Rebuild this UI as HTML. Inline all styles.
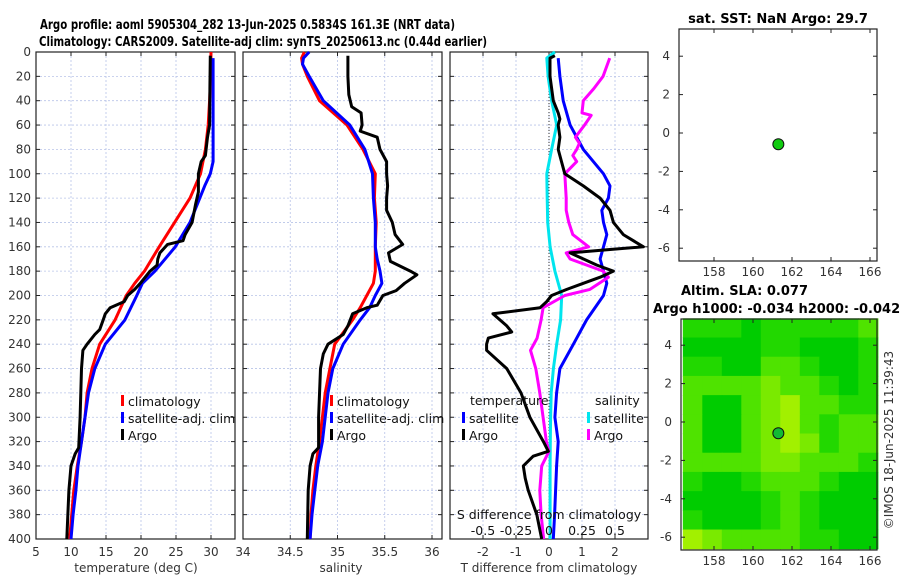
<!DOCTYPE html>
<html><head><meta charset="utf-8"><style>
html,body{margin:0;padding:0;background:#fff;width:900px;height:580px;overflow:hidden}
svg{display:block;font-family:"DejaVu Sans","Liberation Sans",sans-serif}
.tk{font-size:12px;fill:#333}
.ttl{font-size:13px;font-weight:bold;fill:#000}
.lg{font-size:12.5px;fill:#111}
</style></head><body>
<svg id="fig" width="900" height="580" viewBox="0 0 900 580" xmlns="http://www.w3.org/2000/svg">
<text class="ttl" x="40" y="29" textLength="415" lengthAdjust="spacingAndGlyphs">Argo profile: aoml 5905304_282 13-Jun-2025 0.5834S 161.3E (NRT data)</text>
<text class="ttl" x="39" y="46" textLength="448" lengthAdjust="spacingAndGlyphs">Climatology: CARS2009. Satellite-adj clim: synTS_20250613.nc (0.44d earlier)</text>
<g id="g1"></g>
<g id="g2"></g>
<g id="g3"></g>
<g id="m1"></g>
<g id="m2"></g>
<text class="ttl" x="778" y="23" text-anchor="middle">sat. SST: NaN Argo: 29.7</text>
<text class="ttl" x="681" y="295">Altim. SLA: 0.077</text>
<text class="ttl" x="653" y="313">Argo h1000: -0.034 h2000: -0.042</text>
<text class="tk" transform="translate(893,440) rotate(-90)" text-anchor="middle">©IMOS 18-Jun-2025 11:39:43</text>
</svg>
<script>
// ---- data ----
const tClimDepth=[0,20,40,60,80,100,120,140,160,180,190,200,220,240,260,280,300,320,340,360,380,400];
const tClim=[30,29.95,29.8,29.6,29.2,28.5,27,24.8,22.6,20.5,19.1,17.9,16.3,14.1,13,12.3,12,11.5,10.9,10.4,10.1,9.8];
const tSatDepth=[5,20,40,60,80,90,100,110,120,140,160,180,190,200,220,240,260,280,300,320,340,360,380,400];
const tSat=[30.3,30.3,30.3,30.3,30.3,30.3,29.9,29.1,28.4,27,24.9,22,20.2,19.4,17.7,14.9,13.4,12.5,12,11.5,11,10.7,10.3,10];
const tArgoDepth=[3,30,60,70,85,90,100,115,125,140,150,155,158,165,170,175,180,185,190,195,200,205,210,215,220,228,232,240,245,260,300,325,330,340,360,400];
const tArgo=[29.9,29.85,29.8,29.5,29.2,28.6,28.2,28.2,27.8,27.3,26.3,26,23.8,22.7,22.4,22.3,21.3,20.6,19.9,19.1,18.1,17.6,15.6,14.9,14.6,14.1,13.4,12.3,11.7,11.5,11.3,11.1,10.6,10,9.7,9.4];
const sClimDepth=[0,5,10,20,40,60,80,100,120,140,160,180,190,200,210,220,240,260,280,300,320,340,360,380,400];
const sClim=[34.65,34.62,34.63,34.68,34.81,35.1,35.27,35.4,35.39,35.41,35.4,35.4,35.38,35.31,35.24,35.16,34.97,34.92,34.87,34.84,34.81,34.77,34.74,34.72,34.71];
const sSatDepth=[0,5,10,20,40,60,80,100,120,140,160,170,180,190,200,210,220,240,260,280,300,320,340,360,380,400];
const sSat=[34.7,34.64,34.63,34.7,34.85,35.13,35.29,35.37,35.38,35.4,35.4,35.42,35.45,35.47,35.4,35.34,35.24,35.06,34.95,34.9,34.87,34.84,34.79,34.76,34.73,34.71];
const sArgoDepth=[3,20,35,45,50,60,65,70,80,90,100,110,120,130,140,150,158,165,172,180,183,190,196,200,208,210,215,225,232,240,248,260,300,325,330,340,360,400];
const sArgo=[35.11,35.11,35.12,35.15,35.25,35.26,35.24,35.42,35.45,35.52,35.52,35.53,35.52,35.52,35.58,35.61,35.69,35.54,35.56,35.77,35.84,35.71,35.62,35.48,35.42,35.31,35.16,35.11,35.06,34.9,34.85,34.82,34.8,34.8,34.74,34.71,34.69,34.68];
const dTSatDepth=[5,20,40,60,80,100,110,120,130,140,150,160,170,180,190,200,220,240,260,280,300,320,340,360,380,400];
const dTSat=[0.28,0.33,0.43,0.64,1.04,1.65,1.85,1.8,1.6,1.65,1.75,1.65,1.55,1.65,1.75,1.65,1.14,0.74,0.33,0.23,0.18,0.28,0.23,0.2,0.17,0.13];
const dTArgoDepth=[3,5,20,40,50,55,60,70,80,90,100,110,120,130,140,150,160,162,165,175,180,185,190,195,200,205,210,215,225,230,235,240,245,260,280,300,320,328,332,340,350,360,380,400];
const dTArgo=[0.18,0.03,0.03,0.13,0.28,0.33,0.28,0.33,0.28,0.38,0.48,1.04,1.55,1.85,1.95,2.25,2.86,1.94,0.64,1.45,1.95,1.55,1.04,0.54,0.08,-0.07,-0.27,-1.7,-1.28,-1.13,-1.84,-1.89,-1.89,-1.28,-0.85,-0.58,-0.17,-0.02,-0.48,-0.78,-0.72,-0.63,-0.37,-0.22];
const dSSatDepth=[0,5,20,40,60,80,100,120,140,160,180,200,220,240,260,280,300,320,340,360,380,400];
const dSSat=[0.045,-0.017,-0.007,0.02,0.058,0.02,-0.017,-0.014,-0.01,0.008,0.045,0.096,0.088,0.058,0.033,0.017,0.012,0.01,0.008,0.008,0.008,0.008];
const dSArgoDepth=[5,20,30,40,50,52,60,70,75,80,85,90,100,120,130,140,150,160,165,170,180,185,195,200,210,220,235,245,260,280,300,320,328,340,360,380,400];
const dSArgo=[0.46,0.41,0.34,0.26,0.25,0.32,0.27,0.2,0.23,0.21,0.18,0.21,0.12,0.13,0.13,0.15,0.18,0.3,0.13,0.16,0.41,0.45,0.31,0.12,-0.045,-0.06,-0.09,-0.14,-0.1,-0.07,-0.045,-0.02,0,-0.055,-0.07,-0.06,-0.04];
const depthTicks=[0,20,40,60,80,100,120,140,160,180,200,220,240,260,280,300,320,340,360,380,400];
const tTicks=[5,10,15,20,25,30];
const sTicks=[34,34.5,35,35.5,36];
const sTickLabels=["34","34.5","35","35.5","36"];
const dTTicks=[-2,-1,0,1,2];
const dSTicks=[-0.5,-0.25,0,0.25,0.5];
const lonTicks=[158,160,162,164,166];
const latTicks=[4,2,0,-2,-4,-6];
const argoLon=161.3, argoLat=-0.5834;
const slaGrid=[
[1,1,1,0,1,1,1,1,1,2],
[0,0,0,0,1,1,0,0,0,1],
[1,1,0,0,2,2,1,0,0,1],
[2,2,2,2,3,2,2,1,0,1],
[2,0,0,2,3,4,2,2,1,1],
[2,0,0,2,3,4,2,1,2,2],
[2,0,0,2,3,4,3,1,2,2],
[2,2,2,2,3,3,2,2,2,1],
[1,0,0,1,2,2,2,1,0,0],
[0,0,0,0,1,2,1,0,0,0],
[1,0,0,0,1,2,1,0,0,0],
[4,3,2,2,2,2,1,1,0,0]];
// ---- helpers ----
const NS="http://www.w3.org/2000/svg";
function mk(tag,attrs,parent){const e=document.createElementNS(NS,tag);for(const k in attrs)e.setAttribute(k,attrs[k]);parent.appendChild(e);return e;}
const Y0=52,Y1=539;
const yD=d=>Y0+(Y1-Y0)*d/400;
function lin(d0,d1,r0,r1){return v=>r0+(v-d0)*(r1-r0)/(d1-d0);}
function panel(g,x0,x1,xs,xticks,labels,name){
  depthTicks.forEach(d=>{
    const l=mk('line',{x1:x0,x2:x1,y1:yD(d),y2:yD(d),stroke:'#b8c4e8','stroke-width':0.8,'stroke-dasharray':'2,2'},g);
    
    
  });
  xticks.forEach((v,i)=>{
    const x=xs(v);
    if(x>x0+1&&x<x1-1){const l=mk('line',{x1:x,x2:x,y1:Y0,y2:Y1,stroke:'#b8c4e8','stroke-width':0.8,'stroke-dasharray':'2,2'},g);
    
    }
    mk('line',{x1:x,x2:x,y1:Y1,y2:Y1-4,stroke:'#222'},g);
    mk('line',{x1:x,x2:x,y1:Y0,y2:Y0+4,stroke:'#222'},g);
    const t=mk('text',{x:x,y:556,'text-anchor':'middle',class:'tk'},g);t.textContent=labels[i];
    
    
  });
  depthTicks.forEach(d=>{mk('line',{x1:x0,x2:x0+4,y1:yD(d),y2:yD(d),stroke:'#222'},g);mk('line',{x1:x1,x2:x1-4,y1:yD(d),y2:yD(d),stroke:'#222'},g);});
  const r=mk('rect',{x:x0,y:Y0,width:x1-x0,height:Y1-Y0,fill:'none',stroke:'#222','stroke-width':1.2},g);
  
  
}
function series(g,ds,vs,xs,color,name){
  const p=ds.map((d,i)=>(i?'L':'M')+xs(vs[i]).toFixed(1)+','+yD(d).toFixed(1)).join('');
  const e=mk('path',{d:p,fill:'none',stroke:color,'stroke-width':3,'stroke-linejoin':'round'},g);
  
  
}
function legendItem(g,x,y,color,label,name){
  mk('rect',{x:x,y:y-11,width:3,height:11,fill:color},g);
  const t=mk('text',{x:x+7,y:y,class:'lg'},g);t.textContent=label;
  
  
}
// panel 1
const g1=document.getElementById('g1');
const xT=lin(5,30,36,211);
panel(g1,36,235,xT,tTicks,tTicks.map(String),'temp');
depthTicks.forEach(d=>{const t=mk('text',{x:31,y:yD(d)+4,'text-anchor':'end',class:'tk'},g1);t.textContent=d;
 
 });
series(g1,tClimDepth,tClim,xT,'#ff0000','temp-climatology-line');
series(g1,tSatDepth,tSat,xT,'#0000ff','temp-satellite-line');
series(g1,tArgoDepth,tArgo,xT,'#000','temp-argo-line');
legendItem(g1,121,406,'#f00','climatology','temp-legend-climatology');
legendItem(g1,121,423,'#00f','satellite-adj. clim','temp-legend-satellite');
legendItem(g1,121,440,'#000','Argo','temp-legend-argo');
let t=mk('text',{x:136,y:572,'text-anchor':'middle',class:'tk','font-size':'13'},g1);t.textContent='temperature (deg C)';

// panel 2
const g2=document.getElementById('g2');
const xS=lin(34,36,243,432);
panel(g2,243,442,xS,sTicks,sTickLabels,'sal');
series(g2,sClimDepth,sClim,xS,'#ff0000','sal-climatology-line');
series(g2,sSatDepth,sSat,xS,'#0000ff','sal-satellite-line');
series(g2,sArgoDepth,sArgo,xS,'#000','sal-argo-line');
legendItem(g2,330,406,'#f00','climatology','sal-legend-climatology');
legendItem(g2,330,423,'#00f','satellite-adj. clim','sal-legend-satellite');
legendItem(g2,330,440,'#000','Argo','sal-legend-argo');
t=mk('text',{x:341,y:572,'text-anchor':'middle',class:'tk','font-size':'13'},g2);t.textContent='salinity';

// panel 3
const g3=document.getElementById('g3');
const xDT=lin(0,1,549,582), xDS=lin(0,0.25,549,582);
panel(g3,450,648,xDT,dTTicks,dTTicks.map(String),'diff');
mk('line',{x1:549,x2:549,y1:Y0,y2:Y1,stroke:'#333','stroke-width':1,'stroke-dasharray':'1,2'},g3);
series(g3,dSSatDepth,dSSat,xDS,'#00e5ee','diff-sal-satellite-line');
series(g3,dTSatDepth,dTSat,xDT,'#0000ff','diff-temp-satellite-line');
series(g3,dSArgoDepth,dSArgo,xDS,'#ff00ff','diff-sal-argo-line');
series(g3,dTArgoDepth,dTArgo,xDT,'#000','diff-temp-argo-line');
t=mk('text',{x:470,y:405,class:'lg'},g3);t.textContent='temperature';

t=mk('text',{x:595,y:405,class:'lg'},g3);t.textContent='salinity';

legendItem(g3,462,423,'#00f','satellite','diff-legend-temp-satellite');
legendItem(g3,462,440,'#000','Argo','diff-legend-temp-argo');
legendItem(g3,587,423,'#00e5ee','satellite','diff-legend-sal-satellite');
legendItem(g3,587,440,'#f0f','Argo','diff-legend-sal-argo');
t=mk('text',{x:549,y:519,'text-anchor':'middle',class:'lg'},g3);t.textContent='S difference from climatology';

dSTicks.forEach(v=>{const e=mk('text',{x:xDS(v),y:535,'text-anchor':'middle',class:'lg'},g3);e.textContent=String(v);
 
 });
t=mk('text',{x:549,y:572,'text-anchor':'middle',class:'tk','font-size':'13'},g3);t.textContent='T difference from climatology';

// maps
function map(g,x0,x1,top,bot,yLat0,name,withGrid){
  const xl=lin(158,166,714,870), yl=lin(0,-6,yLat0,yLat0+19.2*6);
  if(withGrid){
    const cols=['#00cc00','#22d800','#4fe300','#7aea00','#a2f000'];
    slaGrid.forEach((row,r)=>row.forEach((v,c)=>{
      const xa=xl(156.4+c),xb=xl(157.4+c),ya=yl(5.4-r),yb=yl(4.4-r);
      const e=mk('rect',{x:xa,y:ya,width:xb-xa+0.6,height:yb-ya+0.6,fill:cols[v]},g);
      
      
    }));
  }
  mk('rect',{x:x0,y:top,width:x1-x0,height:bot-top,fill:'none',stroke:'#222','stroke-width':1.2},g);
  lonTicks.forEach(v=>{const x=xl(v);mk('line',{x1:x,x2:x,y1:bot,y2:bot-4,stroke:'#222'},g);mk('line',{x1:x,x2:x,y1:top,y2:top+4,stroke:'#222'},g);
    const e=mk('text',{x:x,y:bot+15,'text-anchor':'middle',class:'tk'},g);e.textContent=v;
    
    });
  latTicks.forEach(v=>{const y=yl(v);mk('line',{x1:x0,x2:x0+4,y1:y,y2:y,stroke:'#222'},g);mk('line',{x1:x1,x2:x1-4,y1:y,y2:y,stroke:'#222'},g);
    const e=mk('text',{x:x0-9,y:y+4,'text-anchor':'end',class:'tk'},g);e.textContent=v;
    
    });
  const c=mk('circle',{cx:xl(argoLon),cy:yl(argoLat),r:5.5,fill:withGrid?'#11bb33':'#11cc11',stroke:'#111','stroke-width':1},g);
  
  
}
map(document.getElementById('m1'),679,877,29,261,133,'sst-map',false);
map(document.getElementById('m2'),681,877,319,550,422,'sla-map',true);
</script>
</body></html>
